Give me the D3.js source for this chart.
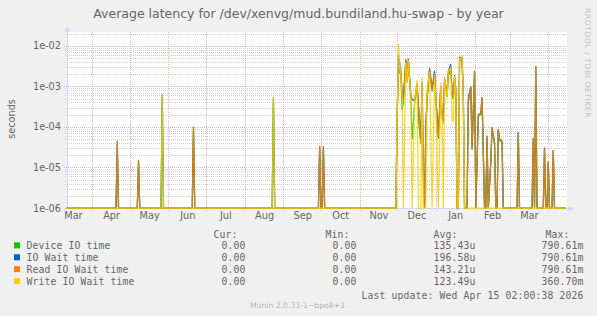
<!DOCTYPE html>
<html>
<head>
<meta charset="utf-8">
<script src="https://cdn.jsdelivr.net/npm/d3@7"></script>
<style>
  body { margin: 0; background: #f0f0f0; }
  svg { display: block; }
</style>
</head>
<body>
<svg id="chart" width="597" height="316"></svg>
<script>
// sample days (UTC), all series share them
const dates = [
  '2025-03-11', '2025-04-20', '2025-04-21', '2025-04-22', '2025-05-07', '2025-05-08', '2025-05-09', '2025-05-26', '2025-05-27', '2025-05-28',
  '2025-06-20', '2025-06-21', '2025-06-22', '2025-08-23', '2025-08-24', '2025-08-25', '2025-09-29', '2025-09-30', '2025-10-01', '2025-10-02',
  '2025-10-03', '2025-10-04', '2025-11-30', '2025-12-01', '2025-12-02', '2025-12-04', '2025-12-05', '2025-12-06', '2025-12-08', '2025-12-09',
  '2025-12-10', '2025-12-12', '2025-12-13', '2025-12-15', '2025-12-17', '2025-12-18', '2025-12-20', '2025-12-21', '2025-12-22', '2025-12-23',
  '2025-12-24', '2025-12-25', '2025-12-27', '2025-12-29', '2025-12-31', '2026-01-01', '2026-01-03', '2026-01-05', '2026-01-06', '2026-01-07',
  '2026-01-08', '2026-01-10', '2026-01-11', '2026-01-13', '2026-01-14', '2026-01-15', '2026-01-16', '2026-01-17', '2026-01-18', '2026-01-19',
  '2026-01-20', '2026-01-22', '2026-01-23', '2026-01-24', '2026-01-26', '2026-01-27', '2026-01-29', '2026-01-30', '2026-02-01', '2026-02-02',
  '2026-02-04', '2026-02-06', '2026-02-07', '2026-02-09', '2026-02-10', '2026-02-11', '2026-02-12', '2026-02-14', '2026-02-15', '2026-02-17',
  '2026-02-18', '2026-02-19', '2026-02-20', '2026-02-21', '2026-02-23', '2026-02-24', '2026-03-07', '2026-03-08', '2026-03-09', '2026-03-19',
  '2026-03-20', '2026-03-21', '2026-03-22', '2026-03-23', '2026-03-28', '2026-03-29', '2026-03-30', '2026-03-31', '2026-04-01', '2026-04-02',
  '2026-04-04', '2026-04-05', '2026-04-06', '2026-04-15'
]

// seconds
const deviceIO = [
  0, 0, 3.5e-5, 0, 0, 1.3e-5, 0, 0, 5e-4, 0,
  0, 8e-5, 0, 0, 4.5e-4, 0, 0, 3e-5, 0, 0,
  3e-5, 0, 0, 1.3e-4, 2.6e-3, 1.9e-3, 2.5e-4, 4e-4, 4.2e-3, 1.2e-3,
  3.8e-3, 5e-4, 4.9e-5, 4e-4, 9e-4, 1.6e-4, 3.8e-5, 9e-4, 6e-6, 0,
  9e-5, 4.5e-4, 2.4e-3, 7.5e-4, 1.8e-3, 4.5e-4, 5e-5, 8.5e-4, 1.7e-4, 1.2e-4,
  1.3e-3, 5.5e-4, 1.8e-3, 2.7e-3, 5.5e-4, 5e-4, 1.4e-3, 7e-4, 0, 0,
  4.4e-3, 4.2e-3, 5.5e-4, 0, 0, 4e-4, 9e-4, 2.7e-5, 2.2e-3, 0,
  1.8e-4, 2e-4, 5e-4, 0, 0, 5.5e-5, 0, 1.3e-5, 9e-5, 3.6e-5,
  0, 0, 8e-5, 4.6e-5, 4.1e-5, 0, 0, 7e-5, 0, 0,
  5e-5, 0, 3e-3, 0, 0, 2.8e-5, 0, 0, 1.3e-5, 0,
  0, 2.5e-5, 0, 0
]
const ioWait = [
  0, 0, 4.4e-5, 0, 0, 1.5e-5, 0, 0, 6.4e-4, 0,
  0, 1e-4, 0, 0, 5.4e-4, 0, 0, 3.3e-5, 0, 0,
  3.3e-5, 0, 0, 1.6e-4, 6e-3, 2.6e-3, 7e-4, 5e-4, 4.5e-3, 1.5e-3,
  4.8e-3, 6e-4, 4.8e-4, 4.6e-4, 1.2e-3, 4e-4, 5e-5, 1.3e-3, 1e-5, 0,
  1e-4, 6e-4, 2.8e-3, 9e-4, 2.4e-3, 5.5e-4, 7e-5, 1e-3, 2e-4, 1.5e-4,
  1.6e-3, 6.5e-4, 2.4e-3, 3.5e-3, 6.5e-4, 6e-4, 1.9e-3, 8.5e-4, 0, 0,
  5.2e-3, 5e-3, 6.5e-4, 0, 0, 5.5e-4, 1e-3, 3e-5, 2.4e-3, 0,
  2e-4, 2.2e-4, 5.4e-4, 0, 0, 6e-5, 0, 1.4e-5, 9.8e-5, 4e-5,
  0, 0, 8.7e-5, 5e-5, 4.5e-5, 0, 0, 7.5e-5, 0, 0,
  5.4e-5, 0, 3.2e-3, 0, 0, 3.1e-5, 0, 0, 1.4e-5, 0,
  0, 2.7e-5, 0, 0
]
const readWait = [
  0, 0, 4.6e-5, 0, 0, 1.55e-5, 0, 0, 0, 0,
  0, 1e-4, 0, 0, 0, 0, 0, 3.4e-5, 0, 0,
  3.4e-5, 0, 0, 1.5e-4, 3e-3, 2.2e-3, 6e-4, 4.5e-4, 4.7e-3, 1.35e-3,
  4.2e-3, 5.8e-4, 4.5e-4, 4.4e-4, 1e-3, 3.5e-4, 4.2e-5, 1e-3, 8e-6, 0,
  1e-4, 5e-4, 2.6e-3, 8.5e-4, 2e-3, 5e-4, 6e-5, 9.3e-4, 1.9e-4, 1.3e-4,
  1.5e-3, 6e-4, 2e-3, 3e-3, 6e-4, 5.5e-4, 1.6e-3, 8e-4, 0, 0,
  4.8e-3, 4.5e-3, 6e-4, 0, 0, 4.5e-4, 1e-3, 3e-5, 2.4e-3, 0,
  2e-4, 2.2e-4, 5.4e-4, 0, 0, 6e-5, 0, 1.4e-5, 9.8e-5, 4e-5,
  0, 0, 8.7e-5, 5e-5, 4.5e-5, 0, 0, 7.5e-5, 0, 0,
  5.4e-5, 0, 3.2e-3, 0, 0, 3.1e-5, 0, 0, 1.4e-5, 0,
  0, 2.7e-5, 0, 0
]
const writeWait = [
  0, 0, 0, 0, 0, 0, 0, 0, 6.6e-4, 0,
  0, 0, 0, 0, 5.6e-4, 0, 0, 0, 0, 0,
  0, 0, 0, 1.5e-4, 1.1e-2, 1.8e-3, 5e-4, 0, 3.8e-3, 1.2e-3,
  4.4e-3, 5.5e-4, 0, 4.2e-4, 1.4e-3, 0, 0, 1.7e-3, 0, 0,
  0, 8e-4, 2.2e-3, 0, 1.8e-3, 4e-4, 0, 1.2e-3, 1.5e-4, 0,
  1.7e-3, 5e-4, 2.4e-3, 2.8e-3, 1.4e-4, 1.4e-4, 1.8e-3, 7e-4, 0, 0,
  4.6e-3, 5.7e-3, 5e-4, 0, 0, 0, 0, 0, 0, 0,
  0, 0, 0, 0, 0, 0, 0, 0, 0, 0,
  0, 0, 0, 0, 0, 0, 0, 0, 0, 0,
  0, 0, 0, 0, 0, 0, 0, 0, 0, 0,
  0, 0, 0, 0
]

const seriesNames = ['Device IO time', 'IO Wait time', 'Read IO Wait time', 'Write IO Wait time']
const seriesColors = ['#00cc00', '#0066b3', '#ff8000', '#ffcc00']
const curValues = ['0.00', '0.00', '0.00', '0.00']
const minValues = ['0.00', '0.00', '0.00', '0.00']
const avgValues = ['135.43u', '196.58u', '143.21u', '123.49u']
const maxValues = ['790.61m', '790.61m', '790.61m', '360.70m']

const yTicks = [1e-6, 1e-5, 1e-4, 1e-3, 1e-2]
const yTickLabels = ['1e-06', '1e-05', '1e-04', '1e-03', '1e-02']

const title = 'Average latency for /dev/xenvg/mud.bundiland.hu-swap - by year'
const lastUpdate = 'Last update: Wed Apr 15 02:00:38 2026'

const parseDay = d3.utcParse('%Y-%m-%d')
const start = new Date(Date.UTC(2025, 2, 11, 18))
const end = new Date(Date.UTC(2026, 3, 16))

const svg = d3.select('#chart')
const sans = 'DejaVu Sans, sans-serif'
const mono = 'DejaVu Sans Mono, monospace'

svg.append('rect').attr('width', 597).attr('height', 316).attr('fill', '#f0f0f0')

const x = d3.scaleUtc().domain([start, end]).range([67, 567])
const y = d3.scaleLog().domain([1e-6, 0.0218]).range([208, 32]).clamp(true)

// canvas
svg.append('rect')
  .attr('x', 67).attr('y', 32)
  .attr('width', 500).attr('height', 176)
  .attr('fill', '#fff')

let grid = svg.append('g').attr('shape-rendering', 'crispEdges').attr('stroke-dasharray', '1,1')

// minor horizontal lines
let minor = []
for (let e = -6; e <= -2; e++) {
  for (let k = 2; k <= 9; k++) {
    let v = k * Math.pow(10, e)
    if (v < y.domain()[1]) minor.push(v)
  }
}
grid.selectAll('.minor')
  .data(minor)
  .enter()
  .append('line')
  .attr('x1', 65).attr('x2', 567)
  .attr('y1', (d) => Math.round(y(d)) + 0.5)
  .attr('y2', (d) => Math.round(y(d)) + 0.5)
  .attr('stroke', '#d2d2d2')

// decade lines
grid.selectAll('.major')
  .data(yTicks)
  .enter()
  .append('line')
  .attr('x1', 64).attr('x2', 567)
  .attr('y1', (d) => Math.round(y(d)) + 0.5)
  .attr('y2', (d) => Math.round(y(d)) + 0.5)
  .attr('stroke', '#f2b0b0')

// month lines
let months = d3.utcMonth.range(d3.utcMonth.ceil(start), end)
grid.selectAll('.month')
  .data(months)
  .enter()
  .append('line')
  .attr('x1', (d) => Math.round(x(d)) + 0.5)
  .attr('x2', (d) => Math.round(x(d)) + 0.5)
  .attr('y1', 32).attr('y2', 211)
  .attr('stroke', '#f2b0b0')

// axes lines + arrows
svg.append('line')
  .attr('x1', 67.5).attr('x2', 67.5).attr('y1', 208).attr('y2', 30)
  .attr('stroke', '#cfd6f8')
svg.append('path')
  .attr('d', 'M64.5,31.5L70.5,31.5L67.5,26.5Z')
  .attr('fill', '#cfd6f8')
svg.append('line')
  .attr('x1', 64).attr('x2', 570).attr('y1', 208.5).attr('y2', 208.5)
  .attr('stroke', '#cfd6f8')
svg.append('path')
  .attr('d', 'M568.5,205.5L568.5,211.5L573.5,208.5Z')
  .attr('fill', '#cfd6f8')

// series
let series = [deviceIO, ioWait, readWait, writeWait].map((vals, i) => {
  return dates.map((d, j) => ({ date: parseDay(d), v: vals[j] }))
})

let line = d3.line()
  .x((d) => x(d.date))
  .y((d) => y(d.v))

svg.append('g')
  .selectAll('path')
  .data(series)
  .enter()
  .append('path')
  .attr('d', line)
  .attr('fill', 'none')
  .attr('stroke', (d, i) => seriesColors[i])
  .attr('stroke-width', 1.25)
  .attr('stroke-opacity', 0.85)
  .attr('stroke-linejoin', 'miter')

// y labels
let yAxis = svg.append('g')
  .attr('transform', 'translate(67,0)')
  .call(d3.axisLeft(y).tickValues(yTicks).tickFormat((d, i) => yTickLabels[i]).tickSize(0).tickPadding(6))
yAxis.select('.domain').remove()
yAxis.selectAll('text')
  .attr('font-family', sans)
  .attr('font-size', 9.72)
  .attr('fill', '#666')

// month labels, centred inside each month
let mids = d3.utcMonth.range(d3.utcMonth.floor(start), end)
  .map((m) => new Date((+m + +d3.utcMonth.offset(m, 1)) / 2))
  .filter((m) => m > start && m < end)
let xAxis = svg.append('g')
  .attr('transform', 'translate(0,208)')
  .call(d3.axisBottom(x).tickValues(mids).tickFormat(d3.utcFormat('%b')).tickSize(0).tickPadding(4))
xAxis.select('.domain').remove()
xAxis.selectAll('text')
  .attr('font-family', sans)
  .attr('font-size', 9.72)
  .attr('fill', '#666')

// title
svg.append('text')
  .attr('x', 298.5).attr('y', 17.5)
  .attr('text-anchor', 'middle')
  .attr('font-family', sans)
  .attr('font-size', 12.5)
  .attr('fill', '#666')
  .text(title)

svg.append('text')
  .attr('transform', 'translate(14.5,119) rotate(-90)')
  .attr('text-anchor', 'middle')
  .attr('font-family', sans)
  .attr('font-size', 9.72)
  .attr('fill', '#666')
  .text('seconds')

svg.append('text')
  .attr('transform', 'translate(585,63) rotate(90)')
  .attr('text-anchor', 'middle')
  .attr('font-family', sans)
  .attr('font-size', 7.7)
  .attr('letter-spacing', 0.5)
  .attr('fill', '#c4c4c4')
  .text('RRDTOOL / TOBI OETIKER')

// legend
let legend = svg.append('g')
  .attr('font-family', mono)
  .attr('font-size', 9.72)
  .attr('letter-spacing', 0.15)
  .attr('fill', '#666')

let headers = ['Cur:', 'Min:', 'Avg:', 'Max:']
let headerX = [237.5, 349.5, 457.5, 569.5]
let colX = [245.5, 356.5, 475.5, 583.5]
let cols = [curValues, minValues, avgValues, maxValues]

headers.forEach((h, i) => {
  legend.append('text')
    .attr('x', headerX[i]).attr('y', 237.5)
    .attr('text-anchor', 'end')
    .text(h)
})

seriesNames.forEach((name, i) => {
  let yy = 249.2 + i * 11.9
  legend.append('rect')
    .attr('x', 14).attr('y', yy - 6.8)
    .attr('width', 6).attr('height', 6)
    .attr('fill', seriesColors[i])
  legend.append('text')
    .attr('x', 26.5).attr('y', yy)
    .text(name)
  cols.forEach((c, k) => {
    legend.append('text')
      .attr('x', colX[k]).attr('y', yy)
      .attr('text-anchor', 'end')
      .text(c[i])
  })
})

legend.append('text')
  .attr('x', 583.5).attr('y', 298.5)
  .attr('text-anchor', 'end')
  .text(lastUpdate)

svg.append('text')
  .attr('x', 297.5).attr('y', 308)
  .attr('text-anchor', 'middle')
  .attr('font-family', sans)
  .attr('font-size', 7.7)
  .attr('fill', '#b4b4b4')
  .text('Munin 2.0.33-1~bpo8+1')
</script>
</body>
</html>
